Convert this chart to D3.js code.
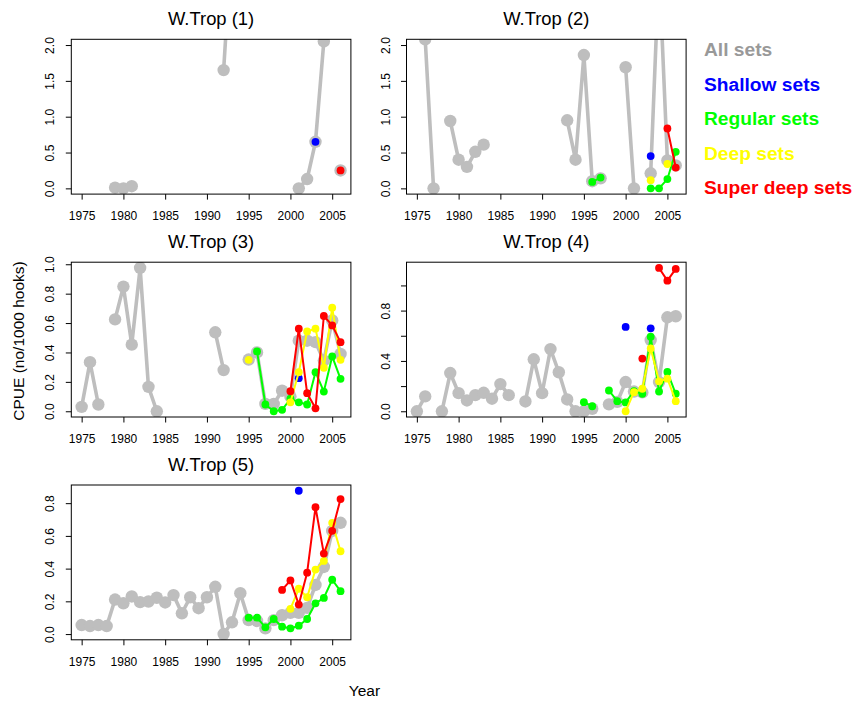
<!DOCTYPE html>
<html><head><meta charset="utf-8">
<script src="https://cdn.jsdelivr.net/npm/d3@7"></script>
<style>body{margin:0;background:#fff}</style>
</head><body>
<svg id="chart" width="856" height="702"></svg>
<script>
// ---------------- DATA ----------------
const years = [1975,1976,1977,1978,1979,1980,1981,1982,1983,1984,1985,1986,1987,1988,1989,1990,
               1991,1992,1993,1994,1995,1996,1997,1998,1999,2000,2001,2002,2003,2004,2005,2006];
const panelTitles = ["W.Trop (1)","W.Trop (2)","W.Trop (3)","W.Trop (4)","W.Trop (5)"];
const seriesNames = ["All sets","Shallow sets","Regular sets","Deep sets","Super deep sets"];
const xTicks = [1975,1980,1985,1990,1995,2000,2005];
const yTicksA = [0,0.5,1,1.5,2];
const yTicksB = [0,0.2,0.4,0.6,0.8,1.0];
const yTicksC = [0,0.2,0.4,0.6,0.8];
const yLabelsP4 = [0,0.4,0.8];
const yLabelText = "CPUE (no/1000 hooks)";
const xLabelText = "Year";

// Panel 1  (values keyed by year; missing years = no data)
const p1All     = {1979:0.01,1980:0.0,1981:0.03,1992:1.65,1993:3.5,2001:0.0,2002:0.13,2003:0.65,2004:2.05,2006:0.25};
const p1Shallow = {2003:0.65};
const p1Regular = {};
const p1Deep    = {};
const p1Super   = {2006:0.25};

// Panel 2
const p2All     = {1976:2.08,1977:0.0,1979:0.94,1980:0.40,1981:0.30,1982:0.51,1983:0.61,1993:0.95,1994:0.40,
                   1995:1.86,1996:0.10,1997:0.14,2000:1.69,2001:0.0,2003:0.21,2004:3.1,2005:0.39,2006:0.32};
const p2Shallow = {2003:0.45};
const p2Regular = {1996:0.09,1997:0.15,2003:0.0,2004:0.0,2005:0.13,2006:0.51};
const p2Deep    = {2003:0.115,2005:0.34};
const p2Super   = {2005:0.835,2006:0.29};

// Panel 3
const p3All     = {1975:0.03,1976:0.334,1977:0.046,1979:0.625,1980:0.848,1981:0.453,1982:0.975,1983:0.166,1984:0.0,
                   1991:0.537,1992:0.28,1995:0.352,1996:0.40,1997:0.05,1998:0.05,1999:0.14,2000:0.10,2001:0.48,
                   2002:0.48,2003:0.47,2004:0.345,2005:0.618,2006:0.39};
const p3Shallow = {2001:0.225};
const p3Regular = {1996:0.407,1997:0.046,1998:0.0,1999:0.01,2000:0.085,2001:0.061,2002:0.046,2003:0.266,
                   2004:0.134,2005:0.373,2006:0.221};
const p3Deep    = {1995:0.35,2000:0.061,2001:0.266,2002:0.543,2003:0.562,2004:0.296,2005:0.705,2006:0.35};
const p3Super   = {2000:0.136,2001:0.562,2002:0.123,2003:0.02,2004:0.648,2005:0.584,2006:0.47};

// Panel 4
const p4All     = {1975:0.0,1976:0.118,1978:0.0,1979:0.304,1980:0.144,1981:0.086,1982:0.128,1983:0.147,1984:0.10,
                   1985:0.216,1986:0.128,1988:0.078,1989:0.413,1990:0.144,1991:0.494,1992:0.31,1993:0.094,
                   1994:0.0,1995:0.0,1996:0.02,1998:0.055,1999:0.075,2000:0.232,2001:0.157,2002:0.15,
                   2003:0.566,2004:0.232,2005:0.747,2006:0.755};
const p4Shallow = {2000:0.67,2003:0.659};
const p4Regular = {1995:0.072,1996:0.04,1998:0.165,1999:0.08,2000:0.07,2001:0.16,2002:0.139,2003:0.592,
                   2004:0.157,2005:0.312,2006:0.139};
const p4Deep    = {2000:0.0,2001:0.152,2002:0.179,2003:0.499,2004:0.238,2005:0.259,2006:0.08};
const p4Super   = {2002:0.419,2004:1.139,2005:1.038,2006:1.131};

// Panel 5
const p5All     = {1975:0.055,1976:0.049,1977:0.055,1978:0.049,1979:0.211,1980:0.188,1981:0.23,1982:0.195,
                   1983:0.199,1984:0.222,1985:0.193,1986:0.238,1987:0.127,1988:0.225,1989:0.158,1990:0.225,
                   1991:0.289,1992:0.0,1993:0.072,1994:0.25,1995:0.085,1996:0.08,1997:0.035,1998:0.085,
                   1999:0.115,2000:0.13,2001:0.13,2002:0.16,2003:0.30,2004:0.41,2005:0.63,2006:0.68};
const p5Shallow = {2001:0.876};
const p5Regular = {1995:0.10,1996:0.10,1997:0.041,1998:0.092,1999:0.045,2000:0.035,2001:0.051,2002:0.092,
                   2003:0.188,2004:0.221,2005:0.332,2006:0.262};
const p5Deep    = {2000:0.154,2001:0.277,2002:0.225,2003:0.394,2004:0.447,2005:0.68,2006:0.506};
const p5Super   = {1999:0.27,2000:0.328,2001:0.18,2002:0.375,2003:0.775,2004:0.492,2005:0.631,2006:0.825};

// ---------------- STYLE / LAYOUT ----------------
const seriesColors = ["#BEBEBE","#0000FF","#00FF00","#FFFF00","#FF0000"];
const legendColors = ["#999999","#0000FF","#00FF00","#FFFF00","#FF0000"];
const FONT = "'Liberation Sans', Arial, Helvetica, sans-serif";
const colLeft = [71.3, 406.5];
const rowTop = [39.3, 262.2, 485.0];
const PW = 279.6, PH = 154.8;

const panels = [
  {title: panelTitles[0], series:[p1All,p1Shallow,p1Regular,p1Deep,p1Super], yTicks:yTicksA, yLab:yTicksA, col:0,row:0},
  {title: panelTitles[1], series:[p2All,p2Shallow,p2Regular,p2Deep,p2Super], yTicks:yTicksA, yLab:yTicksA, col:1,row:0},
  {title: panelTitles[2], series:[p3All,p3Shallow,p3Regular,p3Deep,p3Super], yTicks:yTicksB, yLab:yTicksB, col:0,row:1},
  {title: panelTitles[3], series:[p4All,p4Shallow,p4Regular,p4Deep,p4Super], yTicks:yTicksB, yLab:yLabelsP4, col:1,row:1},
  {title: panelTitles[4], series:[p5All,p5Shallow,p5Regular,p5Deep,p5Super], yTicks:yTicksC, yLab:yTicksC, col:0,row:2}
];

const svg = d3.select("#chart");
svg.append("rect").attr("width",856).attr("height",702).attr("fill","#fff");

const xmin = d3.min(years), xmax = d3.max(years), xext = (xmax - xmin) * 0.04;

panels.forEach((p, i) => {
  const L = colLeft[p.col], T = rowTop[p.row];
  const arrs = p.series.map(obj => years.map(yr => (obj[yr] === undefined ? null : obj[yr])));
  const allVals = arrs.flat().filter(v => v !== null);
  const ymax = Math.min(2, d3.max(allVals)), ymin = 0;
  const yext = (ymax - ymin) * 0.04;
  const x = d3.scaleLinear().domain([xmin - xext, xmax + xext]).range([L, L + PW]);
  const y = d3.scaleLinear().domain([ymin - yext, ymax + yext]).range([T + PH, T]);

  const g = svg.append("g");
  const clipId = "clip" + i;
  svg.append("clipPath").attr("id", clipId).append("rect")
     .attr("x", L).attr("y", T).attr("width", PW).attr("height", PH);

  const data = g.append("g").attr("clip-path", `url(#${clipId})`);
  arrs.forEach((arr, s) => {
    const pts = years.map((yr, k) => ({yr, v: arr[k]}));
    const line = d3.line().defined(d => d.v !== null).x(d => x(d.yr)).y(d => y(d.v));
    data.append("path").datum(pts).attr("d", line)
        .attr("fill", "none").attr("stroke", seriesColors[s])
        .attr("stroke-width", s === 0 ? 3.6 : 2)
        .attr("stroke-linejoin", "round").attr("stroke-linecap", "round");
    data.selectAll(null).data(pts.filter(d => d.v !== null)).enter().append("circle")
        .attr("cx", d => x(d.yr)).attr("cy", d => y(d.v))
        .attr("r", s === 0 ? 6.2 : 3.9).attr("fill", seriesColors[s]);
  });

  // box
  g.append("rect").attr("x", L).attr("y", T).attr("width", PW).attr("height", PH)
   .attr("fill", "none").attr("stroke", "#000").attr("stroke-width", 1);

  // x axis
  const xa = g.append("g").attr("transform", `translate(0,${T + PH})`)
    .call(d3.axisBottom(x).tickValues(xTicks).tickSize(5.5).tickFormat(d3.format("d")));
  xa.select(".domain").remove();
  xa.attr("font-size", 12).attr("font-family", FONT);
  xa.selectAll("text").attr("y", 26).attr("dy", 0).attr("fill", "#000");
  xa.selectAll("line").attr("stroke", "#000");

  // y axis
  const fmt = d3.format(".1f");
  const ya = g.append("g").attr("transform", `translate(${L},0)`)
    .call(d3.axisLeft(y).tickValues(p.yTicks).tickSize(5.5)
      .tickFormat(d => p.yLab.some(v => Math.abs(v - d) < 1e-9) ? fmt(d) : ""));
  ya.select(".domain").remove();
  ya.attr("font-size", 12).attr("font-family", FONT);
  ya.selectAll("text").attr("x", 0).attr("dy", 0).attr("text-anchor", "middle")
    .attr("transform", "translate(-17,0) rotate(-90)").attr("fill", "#000");
  ya.selectAll("line").attr("stroke", "#000");

  // title
  g.append("text").attr("x", L + PW / 2).attr("y", T - 14.5)
   .attr("text-anchor", "middle").attr("font-family", FONT).attr("font-size", 18.4)
   .attr("fill", "#000").text(p.title);
});

// outer axis labels
svg.append("text").attr("transform", "translate(23.5,341) rotate(-90)")
   .attr("text-anchor", "middle").attr("font-family", FONT).attr("font-size", 15.5)
   .attr("fill", "#000").text(yLabelText);
svg.append("text").attr("x", 364.5).attr("y", 695.5)
   .attr("text-anchor", "middle").attr("font-family", FONT).attr("font-size", 15.5)
   .attr("fill", "#000").text(xLabelText);

// legend
const legendBase = [56, 90.6, 125.2, 159.8, 194.4];
seriesNames.forEach((name, i) => {
  svg.append("text").attr("x", 704).attr("y", legendBase[i])
     .attr("font-family", FONT).attr("font-weight", "bold").attr("font-size", 19.2)
     .attr("fill", legendColors[i]).text(name);
});
</script>
</body></html>
